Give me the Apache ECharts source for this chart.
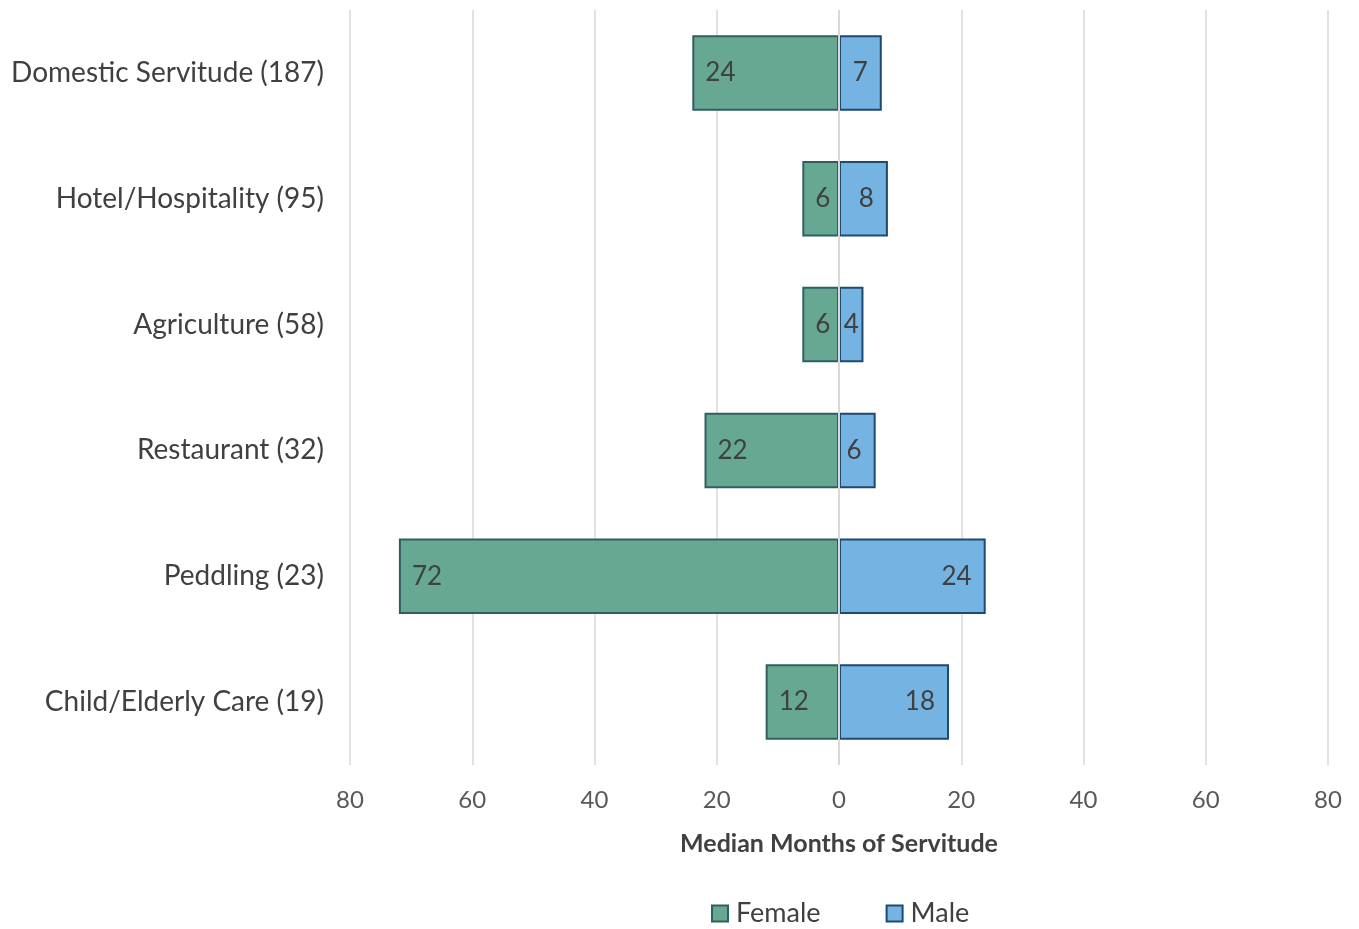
<!DOCTYPE html>
<html>
<head>
<meta charset="utf-8">
<script src="https://cdn.jsdelivr.net/npm/echarts@6/dist/echarts.min.js"></script>
<style>
  html, body { margin: 0; padding: 0; background: #ffffff; }
  #chart { width: 1359px; height: 929px; }
</style>
</head>
<body>
<div id="chart"></div>
<script>
// Sectors with number of cases
const categories = [
  'Domestic Servitude (187)',
  'Hotel/Hospitality (95)',
  'Agriculture (58)',
  'Restaurant (32)',
  'Peddling (23)',
  'Child/Elderly Care (19)'
];
// Median months of servitude by sex
const femaleMonths = [24, 6, 6, 22, 72, 12];
const maleMonths = [7, 8, 4, 6, 24, 18];
const axisTicks = [-80, -60, -40, -20, 0, 20, 40, 60, 80];

const FONT = 'Lato, "Open Sans", sans-serif';
const TEXT = '#404040';

// very short bars keep their value label centred so it stays inside the bar
const barItems = (values, sign) => values.map(v => {
  const item = { value: sign * v };
  if (v < 5) item.label = { position: 'inside' };
  return item;
});

const chart = echarts.init(document.getElementById('chart'), null, { renderer: 'canvas' });

chart.setOption({
  animation: false,
  textStyle: { fontFamily: FONT },
  grid: { left: 350, right: 31, top: 10, bottom: 164, containLabel: false },
  xAxis: {
    type: 'value',
    min: axisTicks[0],
    max: axisTicks[axisTicks.length - 1],
    interval: 20,
    axisLine: { show: false },
    axisTick: { show: false },
    splitLine: { show: true, lineStyle: { color: '#d9d9d9', width: 1.5 } },
    axisLabel: {
      color: '#595959', fontSize: 24, fontFamily: FONT, margin: 23,
      formatter: v => String(Math.abs(v))
    },
    name: 'Median Months of Servitude',
    nameLocation: 'middle',
    nameGap: 66,
    nameTextStyle: { color: TEXT, fontSize: 25, fontWeight: 'bold', fontFamily: FONT }
  },
  yAxis: {
    type: 'category',
    data: categories,
    inverse: true,
    axisLine: { show: false },
    axisTick: { show: false },
    axisLabel: { color: TEXT, fontSize: 28, fontFamily: FONT, margin: 26 }
  },
  legend: {
    top: 895,
    left: 706,
    itemGap: 65,
    itemWidth: 16,
    itemHeight: 16,
    icon: 'rect',
    textStyle: { color: TEXT, fontSize: 27, fontFamily: FONT, padding: [0, 0, 0, 3] },
    data: ['Female', 'Male']
  },
  series: [
    {
      name: 'Female',
      type: 'bar',
      stack: 'sex',
      barCategoryGap: '40%',
      data: barItems(femaleMonths, -1),
      itemStyle: { color: '#67a893', borderColor: '#2f5f62', borderWidth: 2 },
      label: {
        show: true, position: 'insideLeft', distance: 13,
        color: TEXT, fontSize: 26, fontFamily: FONT,
        formatter: p => String(Math.abs(p.value))
      }
    },
    {
      name: 'Male',
      type: 'bar',
      stack: 'sex',
      barCategoryGap: '40%',
      data: barItems(maleMonths, 1),
      itemStyle: { color: '#75b4e2', borderColor: '#1d4a70', borderWidth: 2 },
      label: {
        show: true, position: 'insideRight', distance: 14,
        color: TEXT, fontSize: 26, fontFamily: FONT,
        formatter: p => String(Math.abs(p.value))
      },
      // zero gridline drawn over the bars
      markLine: {
        silent: true,
        symbol: 'none',
        label: { show: false },
        lineStyle: { color: '#d9d9d9', width: 2, type: 'solid' },
        data: [{ xAxis: 0 }]
      }
    }
  ]
});
</script>
</body>
</html>
